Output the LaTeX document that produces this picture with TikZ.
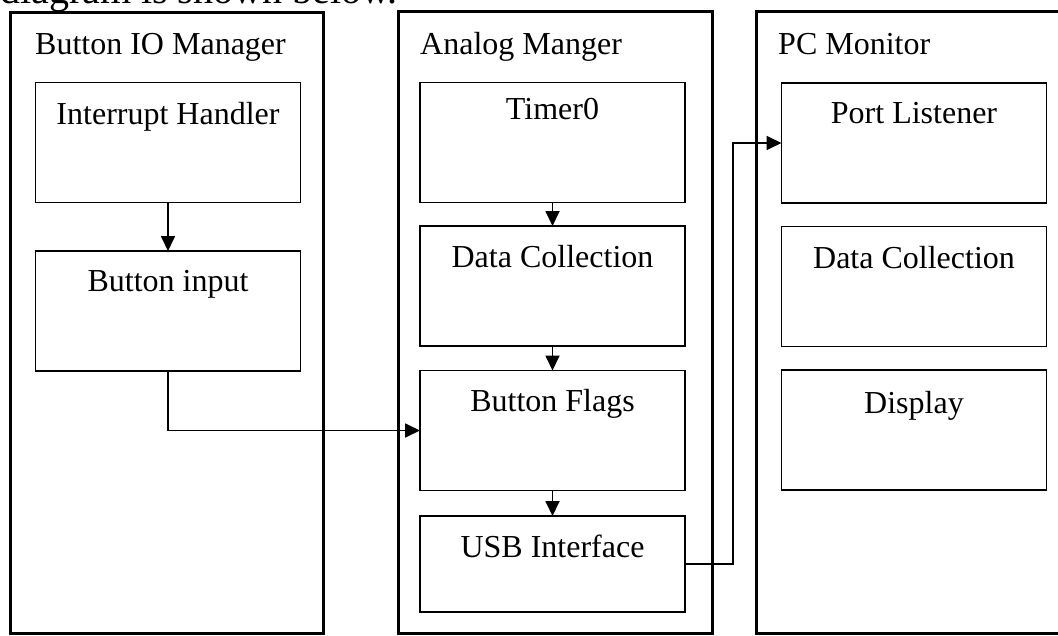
\documentclass[tikz,border=0pt]{standalone}
\usepackage{fontspec}
\setmainfont{Liberation Serif}
\usetikzlibrary{arrows.meta}
\begin{document}
\begin{tikzpicture}[x=1pt,y=-1pt,
  outerbox/.style={draw=black,line width=3pt},
  innerbox/.style={draw=black,line width=1.8pt,minimum width=265pt,minimum height=120pt,inner sep=0pt,outer sep=0pt},
  txt/.style={font=\fontsize{32}{38}\selectfont,inner sep=0pt,anchor=base},
  ttl/.style={font=\fontsize{32}{38}\selectfont,inner sep=0pt,anchor=base west},
  arr/.style={draw=black,line width=1.8pt,-{Triangle[length=15pt,width=14pt]}}]
\useasboundingbox (0,0) rectangle (1058,635);
\fill[white] (0,0) rectangle (1058,635);
% cut-off top line of text
\node[font=\fontsize{40}{44}\selectfont,inner sep=0pt,anchor=base west] (top) at (0,3) {diagram is shown below.};
% outer boxes
\draw[outerbox] (10,12) rectangle (323,633);
\draw[outerbox] (398,11) rectangle (712,633);
\draw[outerbox] (756,11) rectangle (1075,633);
\node[ttl] (t1) at (35,54) {Button IO Manager};
\node[ttl] (t2) at (420,54) {Analog Manger};
\node[ttl] (t3) at (778,54) {PC Monitor};
% column 1
\node[innerbox] (ih) at (168,142.5) {};
\node[innerbox] (bi) at (168,311) {};
% column 2
\node[innerbox] (tm) at (552.5,142.5) {};
\node[innerbox] (dc) at (552.5,286) {};
\node[innerbox] (bf) at (552.5,430.5) {};
\node[innerbox,minimum height=96pt] (usb) at (552.5,564) {};
% column 3
\node[innerbox] (pl) at (914,143) {};
\node[innerbox] (dc2) at (914,286.5) {};
\node[innerbox] (dp) at (914,430) {};
% texts
\node[txt] (ihl) at (168,124) {Interrupt Handler};
\node[txt] (bil) at (168,291) {Button input};
\node[txt] (tml) at (552.5,119) {Timer0};
\node[txt] (dcl) at (552.5,267) {Data Collection};
\node[txt] (bfl) at (552.5,411) {Button Flags};
\node[txt] (usbl) at (552.5,557) {USB Interface};
\node[txt] (pll) at (914,123) {Port Listener};
\node[txt] (dc2l) at (914,268) {Data Collection};
\node[txt] (dpl) at (914,413) {Display};
% connectors
\draw[arr] (ih.south) -- (bi.north);
\draw[arr] (bi.south) |- (bf.west);
\draw[arr] (tm.south) -- (dc.north);
\draw[arr] (dc.south) -- (bf.north);
\draw[arr] (bf.south) -- (usb.north);
\draw[arr] (usb.east) -- ++(48,0) |- (pl.west);
\end{tikzpicture}
\end{document}
